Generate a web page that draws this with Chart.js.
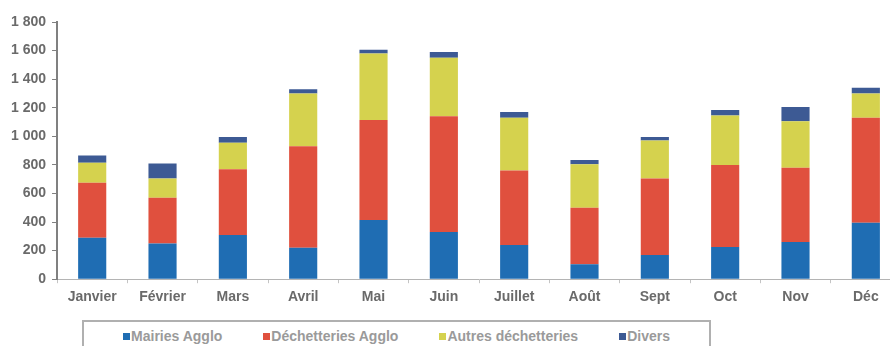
<!DOCTYPE html>
<html lang="fr">
<head>
<meta charset="utf-8">
<script src="https://cdn.jsdelivr.net/npm/chart.js@4/dist/chart.umd.min.js"></script>
<style>
  html, body { margin: 0; padding: 0; background: #fff; overflow: hidden; }
  #wrap { position: relative; width: 902px; height: 346px; }
  #box { position: absolute; left: 0; top: 0; width: 902px; height: 316px; }
  #legende {
    position: absolute; left: 82px; top: 320px; width: 629px; height: 34px;
    border: 2px solid #b0b0b0; box-sizing: border-box;
    display: flex; justify-content: center; align-items: center; gap: 41px;
    font: bold 14px "Liberation Sans", Arial, sans-serif; color: #9a9a9a;
    padding-bottom: 2px;
  }
  #legende span.item { display: flex; align-items: center; }
  #legende i { display: inline-block; width: 7px; height: 7px; margin-right: 1px; }
</style>
</head>
<body>
<div id="wrap">
  <div id="box"><canvas id="tonnageChart"></canvas></div>
  <div id="legende"></div>
</div>
<script>
// --- Données (tonnes par mois) ---
const mois = ['Janvier', 'Février', 'Mars', 'Avril', 'Mai', 'Juin', 'Juillet', 'Août', 'Sept', 'Oct', 'Nov', 'Déc'];
const mairiesAgglo = [290, 250, 310, 220, 415, 330, 240, 105, 170, 225, 260, 395];
const dechetteriesAgglo = [385, 320, 460, 710, 700, 810, 520, 395, 535, 575, 520, 735];
const autresDechetteries = [140, 135, 185, 370, 465, 410, 370, 305, 265, 345, 325, 170];
const divers = [50, 105, 40, 30, 25, 40, 40, 30, 25, 40, 100, 40];

const police = { family: '"Liberation Sans", Arial, sans-serif', size: 14, weight: 'bold' };

// formatage "1 800"
const formatMilliers = (v) => String(v).replace(/\B(?=(\d{3})+(?!\d))/g, ' ');

// legende html (dans un cadre, comme l'original)
const legendeHtml = {
  id: 'legendeHtml',
  afterUpdate(chart) {
    const cont = document.getElementById('legende');
    cont.innerHTML = '';
    chart.data.datasets.forEach(ds => {
      const item = document.createElement('span');
      item.className = 'item';
      const carre = document.createElement('i');
      carre.style.background = ds.backgroundColor;
      item.appendChild(carre);
      item.appendChild(document.createTextNode(ds.label));
      cont.appendChild(item);
    });
  }
};

const ctx = document.getElementById('tonnageChart').getContext('2d');
new Chart(ctx, {
  type: 'bar',
  data: {
    labels: mois,
    datasets: [
      { label: 'Mairies Agglo', data: mairiesAgglo, backgroundColor: '#1f6db3' },
      { label: 'Déchetteries Agglo', data: dechetteriesAgglo, backgroundColor: '#e0503e' },
      { label: 'Autres déchetteries', data: autresDechetteries, backgroundColor: '#d5d24e' },
      { label: 'Divers', data: divers, backgroundColor: '#3d5a94' }
    ]
  },
  options: {
    responsive: true,
    maintainAspectRatio: false,
    animation: false,
    barPercentage: 0.4,
    categoryPercentage: 1,
    layout: { padding: { top: 22, left: 5, right: 1, bottom: 4 } },
    scales: {
      x: {
        stacked: true,
        grid: { drawOnChartArea: false, tickLength: 4, color: '#c4c4c4' },
        border: { color: '#b4b4b4', width: 1 },
        ticks: { font: police, color: '#6a6a6a', padding: 6, maxRotation: 0 }
      },
      y: {
        stacked: true,
        min: 0,
        max: 1800,
        grid: { drawOnChartArea: false, tickLength: 5, color: '#808080' },
        border: { color: '#808080', width: 2 },
        ticks: {
          stepSize: 200,
          font: police,
          color: '#6a6a6a',
          padding: 6,
          callback: (v) => formatMilliers(v)
        }
      }
    },
    plugins: {
      legend: { display: false },
      tooltip: { enabled: false }
    }
  },
  plugins: [legendeHtml]
});
</script>
</body>
</html>
